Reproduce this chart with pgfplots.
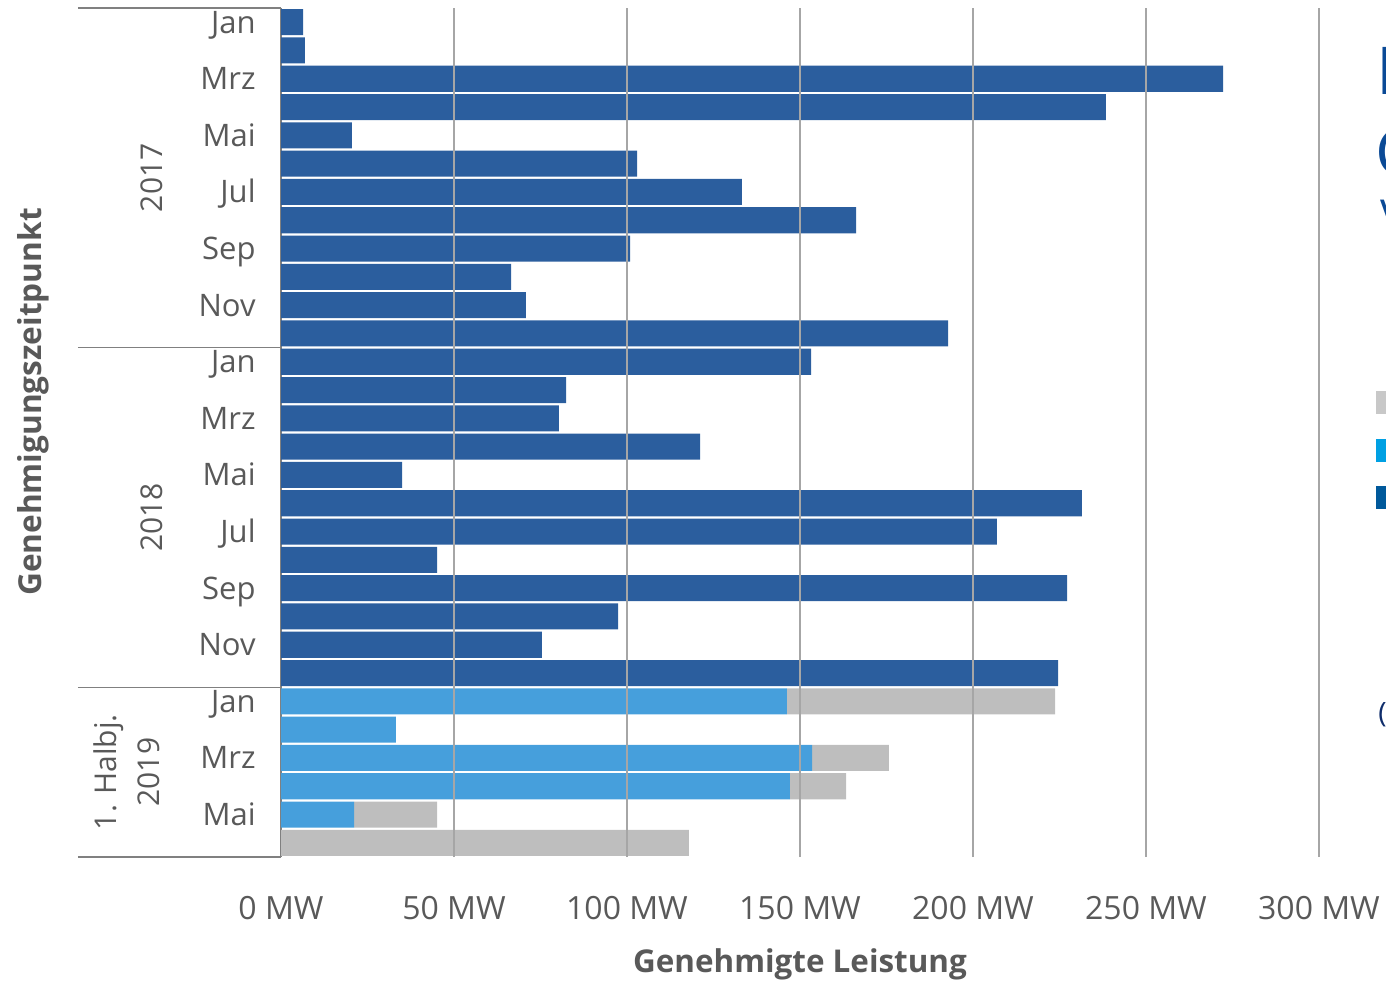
\documentclass[border=0pt]{standalone}
\usepackage{pgfplots}
\usepackage{pgfplotstable}
\pgfplotsset{compat=1.18}
\usepackage{fontspec}
\setmainfont{Open Sans}
\definecolor{txt}{HTML}{595959}
\definecolor{barDark}{HTML}{2B5E9E}
\definecolor{barLight}{HTML}{469FDC}
\definecolor{barGray}{HTML}{BEBEBE}
\definecolor{legGray}{HTML}{C8C8C8}
\definecolor{legLight}{HTML}{00A0E3}
\definecolor{legDark}{HTML}{00599B}
\definecolor{gridc}{HTML}{A6A6A6}
\definecolor{axisc}{HTML}{808080}
\definecolor{titleblue}{HTML}{0B4A96}
\definecolor{navy}{HTML}{0F2D6B}

\pgfplotstableread{
y dark light gray
29 6.4 0 0
28 6.9 0 0
27 272.3 0 0
26 238.4 0 0
25 20.5 0 0
24 102.9 0 0
23 133.2 0 0
22 166.2 0 0
21 100.9 0 0
20 66.5 0 0
19 70.8 0 0
18 192.8 0 0
17 153.2 0 0
16 82.4 0 0
15 80.3 0 0
14 121.1 0 0
13 35.0 0 0
12 231.5 0 0
11 206.9 0 0
10 45.1 0 0
9 227.2 0 0
8 97.4 0 0
7 75.4 0 0
6 224.6 0 0
5 0 146.2 77.5
4 0 33.2 0
3 0 153.5 22.2
2 0 147.1 16.2
1 0 21.1 24.0
0 0 0 117.9
}\datatable

\begin{document}
\begin{tikzpicture}
\useasboundingbox (0pt,0pt) rectangle (693pt,490pt);
\begin{axis}[
  at={(140.5pt,61.5pt)}, anchor=south west,
  scale only axis, width=519pt, height=424.5pt,
  xbar stacked, bar width=0.92,
  xmin=0, xmax=300, ymin=-0.5, ymax=29.5,
  xtick={50,100,...,300},
  xticklabels={50 MW,100 MW,150 MW,200 MW,250 MW,300 MW},
  extra x ticks={0}, extra x tick labels={0 MW},
  extra x tick style={grid=none},
  ytick={1,3,...,29},
  yticklabels={Mai,Mrz,Jan,Nov,Sep,Jul,Mai,Mrz,Jan,Nov,Sep,Jul,Mai,Mrz,Jan},
  major tick length=0pt,
  axis line style={draw=none},
  xmajorgrids, grid style={gridc, line width=1.1pt},
  axis on top,
  clip=false,
  xticklabel style={font=\fontsize{16}{19}\selectfont, text=txt, anchor=base, inner sep=0pt, yshift=-31.3pt},
  yticklabel style={font=\fontsize{15.5}{18}\selectfont, text=txt, anchor=base east, inner sep=0pt, xshift=-12.5pt, yshift=-5.5pt},
  legend style={at={(axis description cs:1.055,0.556)}, anchor=north west, draw=none, fill=none, inner sep=0pt, font=\fontsize{15}{18}\selectfont, row sep=7pt},
  legend cell align=left,
  reverse legend,
]
\addplot[fill=barDark, draw=none, legend image code/.code={\fill[legDark] (0pt,-5.75pt) rectangle (11.5pt,5.75pt);}] table[x=dark,y=y]{\datatable};
\addlegendentry{Genehmigungen 2017/2018}
\addplot[fill=barLight, draw=none, legend image code/.code={\fill[legLight] (0pt,-5.75pt) rectangle (11.5pt,5.75pt);}] table[x=light,y=y]{\datatable};
\addlegendentry{Genehmigungen 2019}
\addplot[fill=barGray, draw=none, legend image code/.code={\fill[legGray] (0pt,-5.75pt) rectangle (11.5pt,5.75pt);}] table[x=gray,y=y]{\datatable};
\addlegendentry{Nachmeldungen}

\draw[axisc, line width=0.7pt] (axis cs:0,-0.5) -- (axis cs:0,29.5);
\draw[axisc, line width=0.7pt] ([xshift=-101.5pt]axis cs:0,29.5) -- (axis cs:0,29.5);
\draw[axisc, line width=0.7pt] ([xshift=-101.5pt]axis cs:0,17.5) -- (axis cs:0,17.5);
\draw[axisc, line width=0.7pt] ([xshift=-101.5pt]axis cs:0,5.5) -- (axis cs:0,5.5);
\draw[axisc, line width=0.7pt] ([xshift=-101.5pt]axis cs:0,-0.5) -- (axis cs:0,-0.5);
\node[rotate=90, anchor=base, inner sep=0pt, text=txt, font=\fontsize{15}{18}\selectfont] at ([xshift=-59pt]axis cs:0,23.5) {2017};
\node[rotate=90, anchor=base, inner sep=0pt, text=txt, font=\fontsize{15}{18}\selectfont] at ([xshift=-59pt]axis cs:0,11.5) {2018};
\node[rotate=90, anchor=base, inner sep=0pt, text=txt, font=\fontsize{15}{18}\selectfont] at ([xshift=-82pt]axis cs:0,2.5) {1. Halbj.};
\node[rotate=90, anchor=base, inner sep=0pt, text=txt, font=\fontsize{15}{18}\selectfont] at ([xshift=-60.5pt]axis cs:0,2.5) {2019};
\end{axis}
\node[rotate=90, anchor=base, inner sep=0pt, text=txt, font=\fontsize{15.8}{18}\selectfont\bfseries] at (21pt,289pt) {Genehmigungszeitpunkt};
\node[anchor=base, inner sep=0pt, text=txt, font=\fontsize{15.7}{18}\selectfont\bfseries] at (400pt,4pt) {Genehmigte Leistung};
\node[anchor=base west, inner sep=0pt, text=titleblue, font=\fontsize{33}{40}\selectfont] at (688pt,442.5pt) {Entwicklung};
\node[anchor=base west, inner sep=0pt, text=titleblue, font=\fontsize{33}{40}\selectfont] at (687.5pt,402pt) {Genehmigungen};
\node[anchor=base west, inner sep=0pt, text=titleblue, font=\fontsize{22}{26}\selectfont] at (690pt,374pt) {Vergleich};
\node[anchor=base west, inner sep=0pt, text=navy, font=\fontsize{14}{17}\selectfont] at (689pt,128.5pt) {(Quelle: MaStR)};
\end{tikzpicture}
\end{document}
